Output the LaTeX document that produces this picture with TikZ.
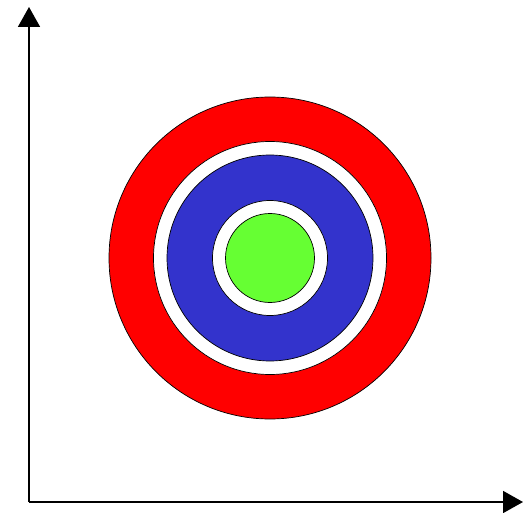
\documentclass[tikz,border=0pt]{standalone}
\usetikzlibrary{arrows.meta}
\definecolor{ringred}{RGB}{255,0,0}
\definecolor{ringblue}{RGB}{51,51,204}
\definecolor{ringgreen}{RGB}{102,255,51}
\begin{document}
\begin{tikzpicture}[x=1pt,y=1pt,
  axis/.style={line width=1.6pt,-{Triangle[length=20pt,width=22pt]}},
  disc/.style={draw=black,line width=0.7pt}]
\useasboundingbox[fill=white] (0,0) rectangle (527,512);
\coordinate (O) at (29,10);
\coordinate (Ytop) at (29,505);
\coordinate (Xend) at (523,10);
\coordinate (C) at (270,254);
\draw[axis] (O) -- (Ytop);
\draw[axis] (O) -- (Xend);
\fill[disc,fill=ringred] (C) circle (161);
\fill[disc,fill=white] (C) circle (116.5);
\fill[disc,fill=ringblue] (C) circle (103);
\fill[disc,fill=white] (C) circle (57.5);
\fill[disc,fill=ringgreen] (C) circle (44.5);
\end{tikzpicture}
\end{document}
